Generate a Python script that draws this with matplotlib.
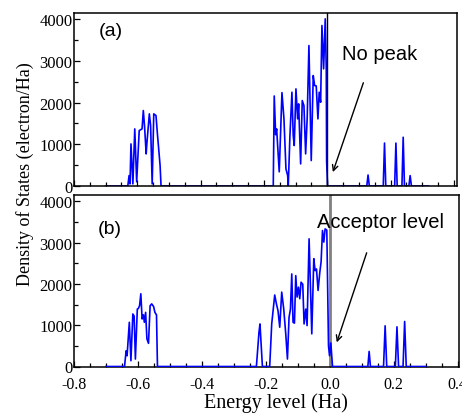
import matplotlib
matplotlib.use("Agg")
import matplotlib.pyplot as plt
from matplotlib.ticker import MultipleLocator
import numpy as np

plt.rcParams['font.family'] = ['Liberation Serif', 'DejaVu Serif']
plt.rcParams['axes.unicode_minus'] = False

# (a) undoped: energy (Ha) and DOS (electron/Ha)
e_a = [-0.700, -0.630, -0.626, -0.623, -0.620, -0.614, -0.608, -0.602, -0.594,
       -0.585, -0.581, -0.577, -0.572, -0.570, -0.562, -0.558, -0.553, -0.548,
       -0.541, -0.537, -0.528, -0.525,
       -0.1705, -0.1674, -0.1629, -0.1598, -0.1516, -0.1430, -0.1367, -0.1304,
       -0.1250, -0.1231, -0.1178, -0.1115, -0.1074, -0.1042, -0.0988, -0.0935,
       -0.0903, -0.0840, -0.0789, -0.0736, -0.0682, -0.0632, -0.0578, -0.0505,
       -0.0442, -0.0398, -0.0347, -0.0294, -0.0253, -0.0208, -0.0167, -0.0114,
       -0.0063, -0.0030, -0.0019, 0.0010,
       0.125, 0.129, 0.133, 0.177, 0.181, 0.185, 0.213, 0.217, 0.221,
       0.236, 0.240, 0.244, 0.258, 0.262, 0.266, 0.320]
dos_a = [0, 0, 250, 50, 1010, 50, 1370, 100, 1330,
         1370, 1810, 1420, 770, 1000, 1730, 1450, 50, 1730,
         1690, 1300, 490, 0,
         0, 2160, 1230, 1370, 340, 2240, 1610, 410,
         250, 0, 1210, 2250, 1210, 970, 2330, 1610,
         1970, 530, 2050, 1930, 770, 1650, 3370, 610,
         2650, 2410, 2400, 1610, 2250, 2010, 3850, 2810,
         4010, 2800, 600, 0,
         0, 264, 0, 0, 1030, 0, 0, 1030, 0,
         0, 1170, 0, 0, 250, 0, 0]

# (b) doped
e_b = [-0.700, -0.642, -0.637, -0.634, -0.627, -0.622, -0.616, -0.612, -0.608,
       -0.602, -0.599, -0.595, -0.591, -0.587, -0.583, -0.580, -0.576, -0.572,
       -0.567, -0.562, -0.557, -0.551, -0.547, -0.542, -0.539,
       -0.2296, -0.2215, -0.2184, -0.2108,
       -0.1880, -0.1817, -0.1723, -0.1670, -0.1620, -0.1566, -0.1504, -0.1441,
       -0.1378, -0.1325, -0.1275, -0.1231, -0.1190, -0.1150, -0.1106, -0.1065,
       -0.1024, -0.0981, -0.0940, -0.0899, -0.0846, -0.0805, -0.0752, -0.0711,
       -0.0648, -0.0564, -0.0501, -0.0461, -0.0417, -0.0367, -0.0313, -0.0273,
       -0.0229, -0.0188, -0.0147, -0.0094, -0.0041, -0.0009, 0.0031, 0.0085,
       0.119, 0.123, 0.127, 0.168, 0.173, 0.178, 0.205, 0.210, 0.215,
       0.229, 0.234, 0.239, 0.300]
dos_b = [0, 0, 380, 260, 1070, 140, 1270, 1220, 180,
         1390, 1400, 1470, 1760, 1150, 1250, 1070, 1310, 670,
         560, 1470, 1515, 1450, 1310, 1250, 0,
         0, 830, 1030, 0,
         0, 1030, 1730, 1515, 1350, 950, 1800, 1390,
         790, 180, 1190, 1390, 2240, 1070, 1050, 2200,
         1680, 1920, 1640, 2040, 1990, 1030, 1390, 990,
         3090, 790, 2610, 2320, 2360, 1840, 2280, 2530,
         3290, 3010, 3330, 3300, 500, 260, 570, 0,
         0, 365, 0, 0, 985, 0, 0, 960, 0,
         0, 1090, 0, 0]

fig = plt.figure(figsize=(4.62, 4.14), dpi=100)
ax1 = fig.add_axes([74 / 462, 1 - 187 / 414, 383 / 462, 173 / 414])
ax2 = fig.add_axes([74 / 462, 1 - 367.5 / 414, 385 / 462, 171.5 / 414])

ax1.plot(e_a, dos_a, color='#0000ff', lw=1.2, zorder=1)
ax1.axvline(0, color='black', lw=1.0, zorder=2)
ax1.set_xlim(-0.8, 0.41)

ax2.plot(e_b, dos_b, color='#0000ff', lw=1.2, zorder=3)
ax2.axvline(0, color='#808080', lw=2.0, zorder=2)
ax2.set_xlim(-0.8, 0.404)

for ax in (ax1, ax2):
    ax.set_ylim(0, 4150)
    ax.xaxis.set_major_locator(MultipleLocator(0.2))
    ax.xaxis.set_minor_locator(MultipleLocator(0.05))
    ax.yaxis.set_major_locator(MultipleLocator(1000))
    ax.yaxis.set_minor_locator(MultipleLocator(500))
    ax.tick_params(which='both', direction='in', top=False, right=False,
                   labelsize=12, width=0.9)
    ax.tick_params(which='major', length=4)
    ax.tick_params(which='minor', length=3)
    ax.tick_params(axis='y', pad=1)
    ax.tick_params(axis='x', pad=7, labelsize=11.5)
    for s in ax.spines.values():
        s.set_linewidth(1.1)

ax1.set_xticklabels([])
ax2.set_xticks([-0.8, -0.6, -0.4, -0.2, 0.0, 0.2, 0.4])
ax2.set_xticklabels(['-0.8', '-0.6', '-0.4', '-0.2', '0.0', '0.2', '0.4'])

sans = ['Liberation Sans', 'DejaVu Sans']
ax1.text(-0.685, 3725, '(a)', family=sans, fontsize=14, ha='center', va='center')
ax2.text(-0.688, 3345, '(b)', family=sans, fontsize=14, ha='center', va='center')

ax1.annotate('', xy=(0.015, 270), xytext=(0.117, 2540),
             arrowprops=dict(arrowstyle='->', color='black', lw=1.0))
ax1.text(0.166, 3170, 'No peak', family=sans, fontsize=14.5, ha='center', va='center')

ax2.annotate('', xy=(0.019, 520), xytext=(0.118, 2815),
             arrowprops=dict(arrowstyle='->', color='black', lw=1.0))
ax2.text(0.157, 3510, 'Acceptor level', family=sans, fontsize=14.5,
         ha='center', va='center')

fig.text(25 / 462, 1 - 174 / 414, 'Density of States (electron/Ha)',
         rotation=90, ha='center', va='center', fontsize=13)
fig.text(276 / 462, 1 - 403 / 414, 'Energy level (Ha)',
         ha='center', va='center', fontsize=14.5)

fig.savefig('out.png', dpi=100)
